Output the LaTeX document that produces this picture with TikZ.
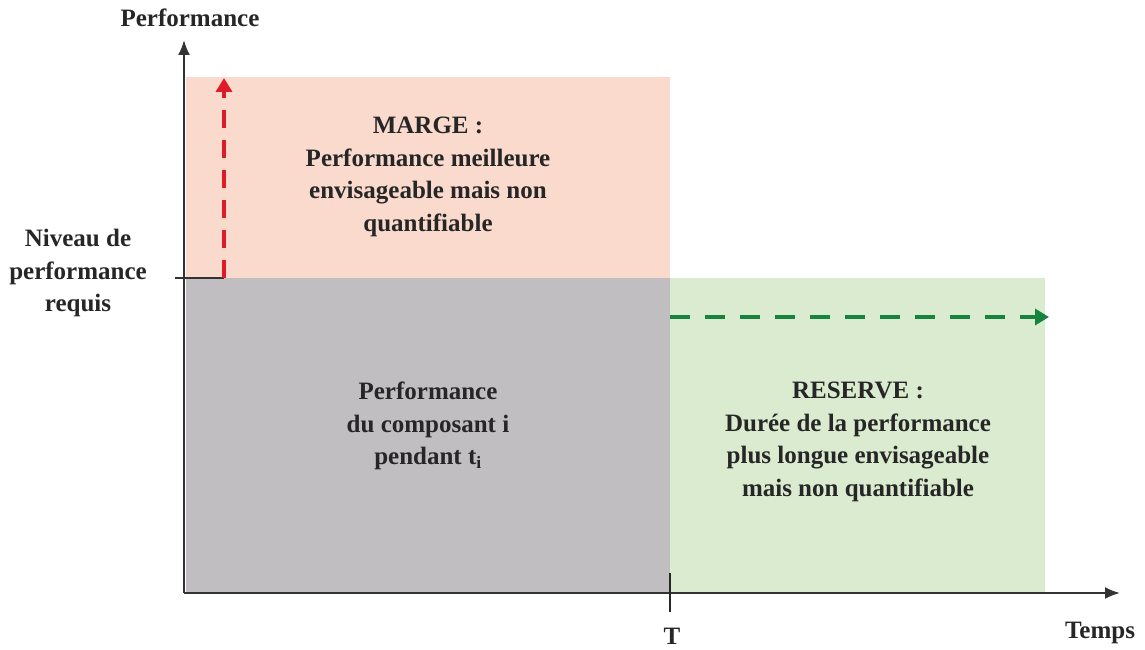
\documentclass[tikz,border=0pt]{standalone}
\usepackage{fontspec}
\setmainfont{Liberation Serif}
\usetikzlibrary{arrows.meta}
\definecolor{margefill}{RGB}{250,218,205}
\definecolor{basefill}{RGB}{192,190,192}
\definecolor{reservefill}{RGB}{218,235,208}
\definecolor{margered}{RGB}{222,28,40}
\definecolor{reservegreen}{RGB}{22,132,62}
\begin{document}
\begin{tikzpicture}[x=1pt,y=-1pt,
  lbl/.style={font=\fontsize{25}{32.5}\selectfont\bfseries,align=center,text=black!85},
  axis/.style={line width=2pt,draw=black!80,-{Latex[length=15pt,width=12pt]}},
  dasharrow/.style={line width=4pt,dash pattern=on 18pt off 12pt,-{Triangle[length=14pt,width=16pt]}}]
\useasboundingbox (0,0) rectangle (1145,650);
% coloured zones
\fill[margefill] (186,77) rectangle (670,278);
\fill[basefill] (186,278) rectangle (670,593);
\fill[reservefill] (670,278) rectangle (1045,593);
% axes
\coordinate (o) at (184,593);
\coordinate (ytop) at (184,40);
\coordinate (xend) at (1120,593);
\draw[axis] (o) -- (ytop);
\draw[axis] (o) -- (xend);
% required level and T tick
\coordinate (lvlA) at (175,278);
\coordinate (lvlB) at (224,278);
\draw[line width=1.8pt,black!80] (lvlA) -- (lvlB);
\coordinate (tA) at (670,573);
\coordinate (tB) at (670,612);
\draw[line width=1.8pt,black!85] (tA) -- (tB);
% margin and reserve arrows
\coordinate (mA) at (224,278);
\coordinate (mB) at (224,78);
\draw[dasharrow,margered] (mA) -- (mB);
\coordinate (rA) at (670,317);
\coordinate (rB) at (1049,317);
\draw[dasharrow,reservegreen,dash pattern=on 20pt off 15pt] (rA) -- (rB);
% texts
\node[lbl] (perf) at (190,18) {Performance};
\node[lbl] (temps) at (1100,633) {Temps};
\node[lbl] (tlab) at (672,636) {T};
\node[lbl] (niveau) at (78,273) {Niveau de\\performance\\requis};
\node[lbl] (marge) at (428,177) {MARGE :\\Performance meilleure\\envisageable mais non\\quantifiable};
\node[lbl] (comp) at (428,426) {Performance\\du composant i\\pendant t\textsubscript{i}};
\node[lbl] (reserve) at (858,442) {RESERVE :\\Durée de la performance\\plus longue envisageable\\mais non quantifiable};
\end{tikzpicture}
\end{document}
